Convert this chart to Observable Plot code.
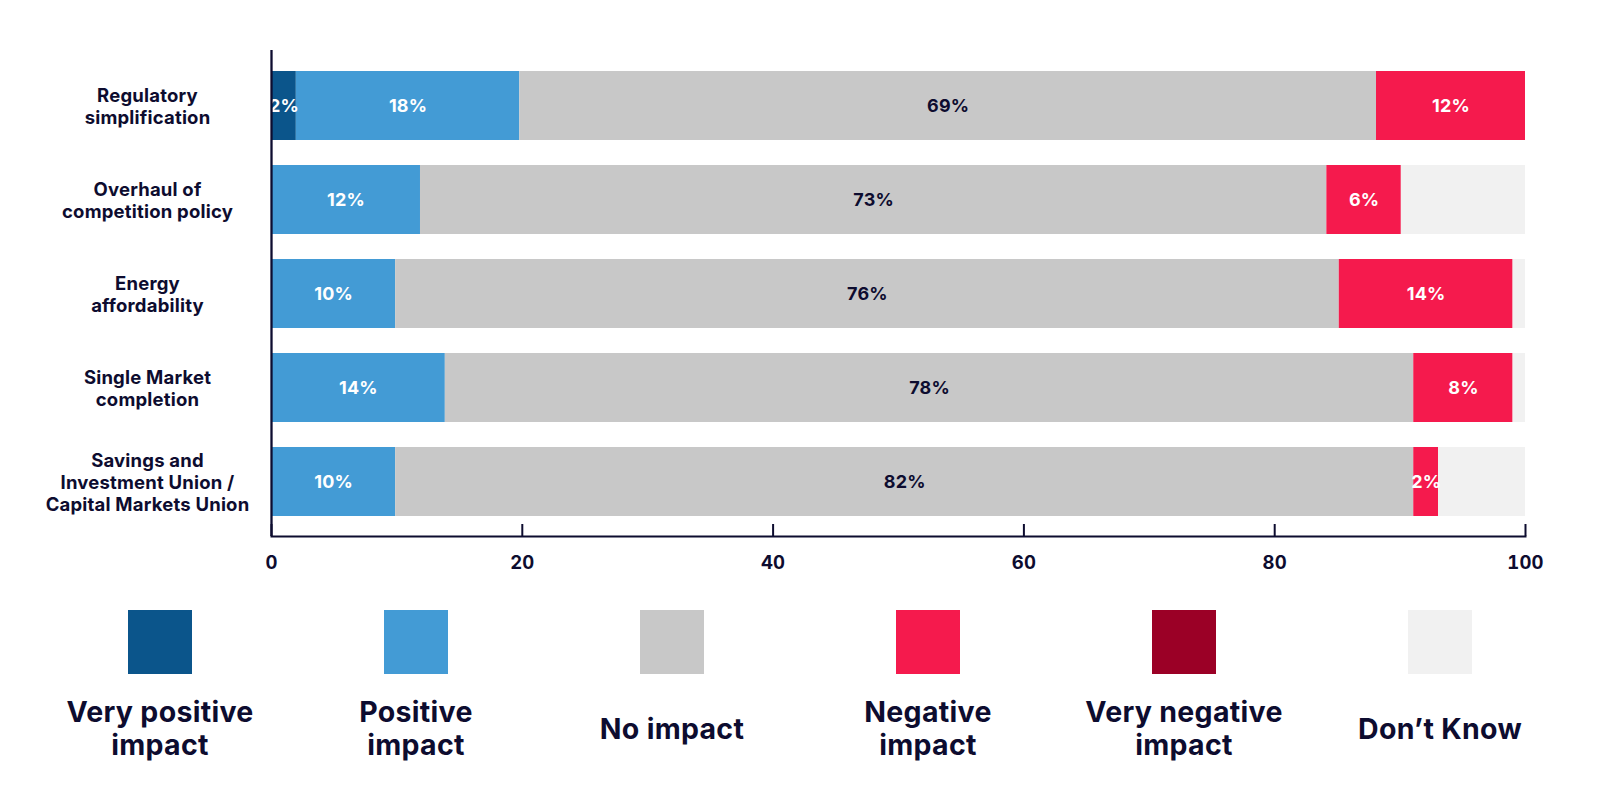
<!DOCTYPE html>
<html>
<head>
<meta charset="utf-8">
<script src="https://cdn.jsdelivr.net/npm/d3@7"></script>
<script src="https://cdn.jsdelivr.net/npm/@observablehq/plot@0.6"></script>
<style>
  html, body { margin: 0; padding: 0; background: #fff; }
  body { width: 1600px; font-family: Inter, "Open Sans", sans-serif; }
  #legend { display: flex; padding-left: 32px; margin-top: 20px; }
  .item { width: 256px; display: flex; flex-direction: column; align-items: center; }
  .sw { width: 64px; height: 64px; }
  .lab { height: 108px; display: flex; align-items: center; justify-content: center; text-align: center;
         white-space: pre-line; font-size: 28.5px; line-height: 33px; font-weight: 700; color: #0d0c2f;
         letter-spacing: 0.3px; }
  #chart svg text { letter-spacing: 0.2px; }
</style>
</head>
<body>
<div id="chart"></div>
<div id="legend"></div>
<script>
const categories = [
  "Regulatory\nsimplification",
  "Overhaul of\ncompetition policy",
  "Energy\naffordability",
  "Single Market\ncompletion",
  "Savings and\nInvestment Union /\nCapital Markets Union"
];
const seriesNames = ["Very positive impact", "Positive impact", "No impact", "Negative impact", "Very negative impact", "Don’t Know"];
const legendLabels = ["Very positive\nimpact", "Positive\nimpact", "No impact", "Negative\nimpact", "Very negative\nimpact", "Don’t Know"];
const colors = ["#0b558b", "#439bd5", "#c8c8c8", "#f51a4d", "#9b0026", "#f1f1f1"];

const veryPositive = [2, 0, 0, 0, 0];
const positive     = [18, 12, 10, 14, 10];
const noImpact     = [69, 73, 76, 78, 82];
const negative     = [12, 6, 14, 8, 2];
const veryNegative = [0, 0, 0, 0, 0];
const dontKnow     = [0, 10, 1, 1, 7];

const xTicks = [0, 20, 40, 60, 80, 100];

const seriesValues = [veryPositive, positive, noImpact, negative, veryNegative, dontKnow];
const data = [];
categories.forEach((c, i) => {
  seriesNames.forEach((s, j) => data.push({cat: c, series: s, value: seriesValues[j][i]}));
});

const navy = "#0d0c2f";
const W = 1600, H = 590, mT = 50, mB = 54, mL = 271, mR = 75;
const innerH = H - mT - mB;
const stack = (extra) => Plot.stackX({x: "value", y: "cat", z: "series", order: seriesNames, offset: "normalize", ...extra});

const whiteSeries = new Set(["Very positive impact", "Positive impact", "Negative impact", "Very negative impact"]);

const chart = Plot.plot({
  width: W, height: H,
  marginTop: mT, marginBottom: mB, marginLeft: mL, marginRight: mR,
  style: {fontFamily: "Inter, 'Open Sans', sans-serif", background: "#fff"},
  x: {domain: [0, 1], axis: null, label: null},
  y: {domain: categories, paddingInner: 0.27, paddingOuter: 0.2, axis: null},
  color: {domain: seriesNames, range: colors},
  marks: [
    Plot.barX(data, stack({fill: "series"})),
    Plot.text(data, stack({
      text: d => whiteSeries.has(d.series) && d.value > 0 ? `${d.value}%` : null,
      fill: "white", fontSize: 18, fontWeight: 700
    })),
    Plot.text(data, stack({
      text: d => d.series === "No impact" && d.value > 0 ? `${d.value}%` : null,
      fill: navy, fontSize: 18, fontWeight: 700
    })),
    Plot.text(categories, {
      y: d => d, text: d => d, frameAnchor: "left", dx: -124, textAnchor: "middle",
      lineHeight: 1.2, fontSize: 18.5, fontWeight: 700, fill: navy
    }),
    Plot.ruleX(xTicks, {x: d => d / 100, stroke: navy, strokeWidth: 2, insetTop: innerH - 12}),
    Plot.ruleX([0], {stroke: navy, strokeWidth: 2.3}),
    Plot.frame({anchor: "bottom", stroke: navy, strokeWidth: 2}),
    Plot.axisX({
      ticks: xTicks.map(d => d / 100), tickFormat: d => Math.round(d * 100),
      tickSize: 0, tickPadding: 19, fontSize: 18.5, fontWeight: 700, fill: navy, label: null
    })
  ]
});
document.getElementById("chart").appendChild(chart);

const legend = document.getElementById("legend");
seriesNames.forEach((s, i) => {
  const item = document.createElement("div");
  item.className = "item";
  const sw = document.createElement("div");
  sw.className = "sw";
  sw.style.background = colors[i];
  const lab = document.createElement("div");
  lab.className = "lab";
  lab.textContent = legendLabels[i];
  item.appendChild(sw);
  item.appendChild(lab);
  legend.appendChild(item);
});
</script>
</body>
</html>
